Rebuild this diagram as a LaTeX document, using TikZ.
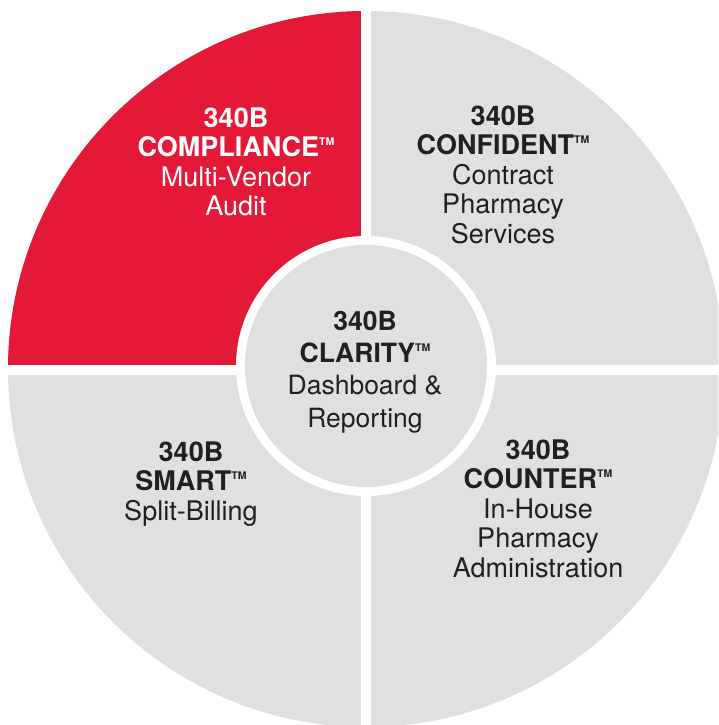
\documentclass[tikz,border=0pt]{standalone}
\usepackage{fontspec}
\setmainfont{TeX Gyre Heros}
\definecolor{cred}{HTML}{E31937}
\definecolor{cgray}{HTML}{DFE0E1}
\definecolor{ctext}{HTML}{231F20}
\newcommand{\tmark}{\raisebox{11pt}{\fontsize{10.5}{10.5}\selectfont\bfseries TM}}
\begin{document}
\begin{tikzpicture}[x=1pt,y=-1pt,
  lbl/.style={align=center, anchor=base, inner sep=0pt, text=ctext,
    font=\fontsize{27}{29.5}\selectfont},
  lblc/.style={lbl, font=\fontsize{26.5}{32.3}\selectfont}]
\useasboundingbox (0,0) rectangle (718,725);
\begin{scope}
  \clip (0,0) rectangle (718,725);
  \fill[cgray] (366,369) circle[radius=358];
  \begin{scope}
    \clip (366,369) circle[radius=358];
    \fill[cred] (0,0) rectangle (366,369);
    \fill[white] (361,0) rectangle (371,725);
    \fill[white] (0,365) rectangle (718,375);
  \end{scope}
\end{scope}
\fill[white] (366,366) circle[radius=130];
\fill[cgray] (366,366) circle[radius=121];
\node[lbl, text=white] (tl) at (236,215.5) {\textbf{340B}\\\textbf{COMPLIANCE}\tmark\\Multi-Vendor\\Audit};
\node[lbl] (tr) at (503,243) {\textbf{340B}\\\textbf{CONFIDENT}\tmark\\Contract\\Pharmacy\\Services};
\node[lbl] (bl) at (191,520) {\textbf{340B}\\\textbf{SMART}\tmark\\Split-Billing};
\node[lbl] (br) at (538,577) {\textbf{340B}\\\textbf{COUNTER}\tmark\\In-House\\Pharmacy\\Administration};
\node[lblc] (c) at (365,427) {\textbf{340B}\\\textbf{CLARITY}\tmark\\Dashboard \&\\Reporting};
\end{tikzpicture}
\end{document}
